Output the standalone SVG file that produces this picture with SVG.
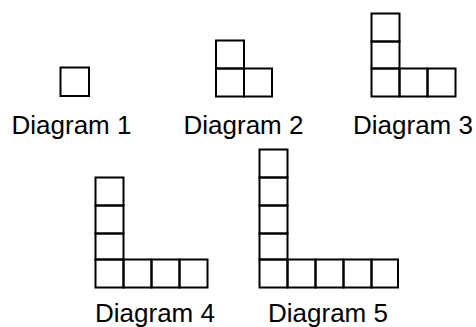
<svg xmlns="http://www.w3.org/2000/svg" width="476" height="327" viewBox="0 0 476 327">
<style>
.c{fill:none;stroke:#000;stroke-width:2}
.t{font-family:"Liberation Sans",Arial,sans-serif;font-size:26px;fill:#000;text-anchor:middle}
</style>
<rect width="476" height="327" fill="#fff"/>
<g id="diagram1">
<rect class="c" x="60.5" y="67.5" width="28.5" height="28.5"/>
<text class="t" x="71.5" y="134">Diagram 1</text>
</g>
<g id="diagram2">
<rect class="c" x="216" y="40.5" width="28" height="28"/>
<rect class="c" x="216" y="68.5" width="28" height="28"/>
<rect class="c" x="244" y="68.5" width="28" height="28"/>
<text class="t" x="243.5" y="134">Diagram 2</text>
</g>
<g id="diagram3">
<rect class="c" x="371.5" y="13.5" width="28" height="28"/>
<rect class="c" x="371.5" y="41.5" width="28" height="27"/>
<rect class="c" x="371.5" y="68.5" width="28" height="28"/>
<rect class="c" x="399.5" y="68.5" width="28" height="28"/>
<rect class="c" x="427.5" y="68.5" width="28" height="28"/>
<text class="t" x="413" y="134">Diagram 3</text>
</g>
<g id="diagram4">
<rect class="c" x="95.5" y="177.5" width="28" height="28"/>
<rect class="c" x="95.5" y="205.5" width="28" height="28"/>
<rect class="c" x="95.5" y="233.5" width="28" height="26"/>
<rect class="c" x="95.5" y="259.5" width="28" height="28"/>
<rect class="c" x="123.5" y="259.5" width="28" height="28"/>
<rect class="c" x="151.5" y="259.5" width="28" height="28"/>
<rect class="c" x="179.5" y="259.5" width="28" height="28"/>
<text class="t" x="155" y="322">Diagram 4</text>
</g>
<g id="diagram5">
<rect class="c" x="259.5" y="149.5" width="28" height="28"/>
<rect class="c" x="259.5" y="177.5" width="28" height="28"/>
<rect class="c" x="259.5" y="205.5" width="28" height="28"/>
<rect class="c" x="259.5" y="233.5" width="28" height="26"/>
<rect class="c" x="259.5" y="259.5" width="28" height="28"/>
<rect class="c" x="287.5" y="259.5" width="28" height="28"/>
<rect class="c" x="315.5" y="259.5" width="28" height="28"/>
<rect class="c" x="343.5" y="259.5" width="28" height="28"/>
<rect class="c" x="371.5" y="259.5" width="26.5" height="28"/>
<text class="t" x="328" y="322">Diagram 5</text>
</g>
<g id="connectors"/>
</svg>
